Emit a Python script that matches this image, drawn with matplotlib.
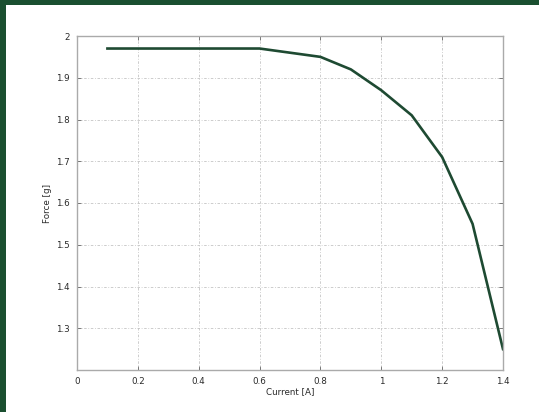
import numpy as np
import matplotlib.pyplot as plt

current = [0.1, 0.2, 0.3, 0.4, 0.5, 0.6, 0.7, 0.8, 0.9, 1.0, 1.1, 1.2, 1.3, 1.4]
force = [1.97, 1.97, 1.97, 1.97, 1.97, 1.97, 1.96, 1.95, 1.92, 1.87, 1.81, 1.71, 1.55, 1.25]

xticks = [0, 0.2, 0.4, 0.6, 0.8, 1, 1.2, 1.4]
xticklabels = ['0', '0.2', '0.4', '0.6', '0.8', '1', '1.2', '1.4']
yticks = [1.3, 1.4, 1.5, 1.6, 1.7, 1.8, 1.9, 2]
yticklabels = ['1.3', '1.4', '1.5', '1.6', '1.7', '1.8', '1.9', '2']

fig = plt.figure(figsize=(5.39, 4.12), dpi=100, facecolor='#1a4f30')
# white panel inside the green frame
bg = fig.add_axes([6/539, 0, 1 - 6/539, 1 - 5/412])
bg.set_axis_off()
bg.add_patch(plt.Rectangle((0, 0), 1, 1, transform=bg.transAxes,
                           facecolor='white', edgecolor='none'))

ax = fig.add_axes([77/539, 42/412, 426/539, 334/412])
ax.plot(current, force, color='#1e4a32', lw=1.9)

ax.set_xlim(0, 1.4)
ax.set_ylim(1.2, 2)
ax.set_xticks(xticks)
ax.set_xticklabels(xticklabels)
ax.set_yticks(yticks)
ax.set_yticklabels(yticklabels)
ax.tick_params(direction='in', top=True, right=True, length=3, width=0.6,
               color='#666666', labelsize=6.3, labelcolor='#2a2a2a', pad=5)
ax.grid(True, linestyle=(0, (3, 2, 1, 2)), color='#c4c4c4', lw=0.6)
for s in ax.spines.values():
    s.set_color('#aaaaaa')
    s.set_linewidth(1.0)

ax.set_xlabel('Current [A]', fontsize=6.3, color='#2a2a2a', labelpad=1)
ax.set_ylabel('Force [g]', fontsize=6.3, color='#2a2a2a', labelpad=3)

fig.savefig('out.png', dpi=100, facecolor=fig.get_facecolor())
